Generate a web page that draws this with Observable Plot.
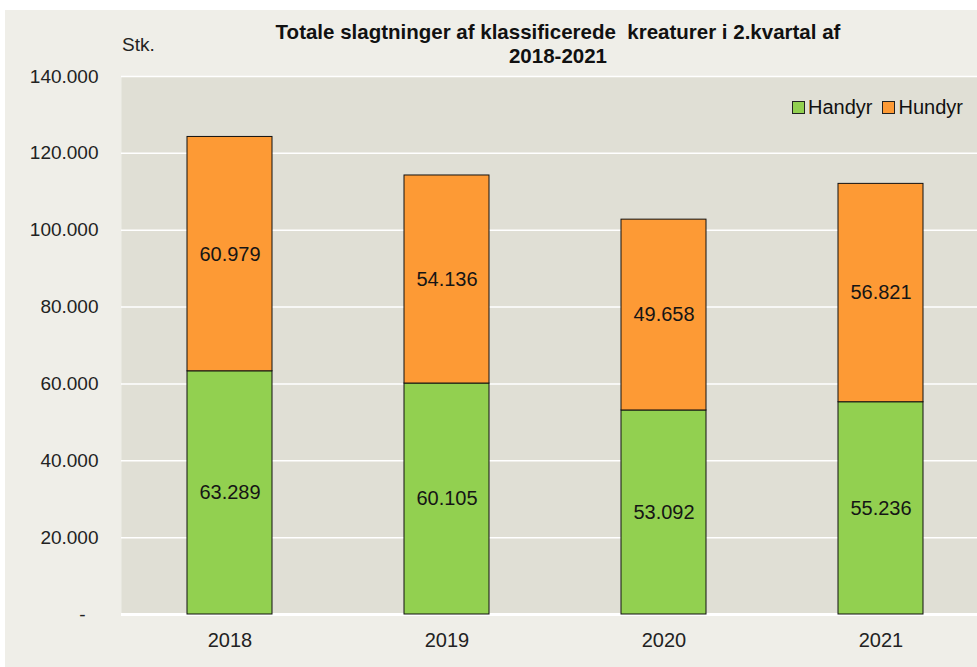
<!DOCTYPE html>
<html>
<head>
<meta charset="utf-8">
<script src="https://cdn.jsdelivr.net/npm/d3@7"></script>
<script src="https://cdn.jsdelivr.net/npm/@observablehq/plot@0.6"></script>
<style>
  html, body { margin: 0; padding: 0; background: #ffffff; overflow: hidden; }
  #wrap { position: relative; width: 977px; height: 667px; overflow: hidden; font-family: "Liberation Sans", Arial, sans-serif; }
  #bg { position: absolute; left: 5px; top: 10px; width: 972px; height: 657px; background: #efeee8; }
  #chart { position: absolute; left: 0; top: 0; }
  #title { position: absolute; left: 208px; top: 20px; width: 700px; text-align: center; font-weight: bold; font-size: 20.5px; line-height: 24px; color: #111; }
  #unit { position: absolute; left: 122px; top: 34px; font-size: 19px; color: #222; }
  #legend { position: absolute; left: 792px; top: 96px; font-size: 20px; color: #111; display: flex; align-items: center; }
  #legend .sw { display: inline-block; width: 11px; height: 11px; border: 1px solid #222; margin-right: 3px; }
  #legend .item { display: flex; align-items: center; margin-right: 10px; }
</style>
</head>
<body>
<div id="wrap">
  <div id="bg"></div>
  <div id="chart"></div>
  <div id="title">Totale slagtninger af klassificerede&nbsp; kreaturer i 2.kvartal af<br>2018-2021</div>
  <div id="unit">Stk.</div>
  <div id="legend"></div>
</div>
<script>
const years = ["2018", "2019", "2020", "2021"];
const seriesNames = ["Handyr", "Hundyr"];
const handyr = [63289, 60105, 53092, 55236];
const hundyr = [60979, 54136, 49658, 56821];
const yTicks = [20000, 40000, 60000, 80000, 100000, 120000, 140000];
const yTickLabels = ["20.000", "40.000", "60.000", "80.000", "100.000", "120.000", "140.000"];
const zeroTick = [0];
const zeroLabel = "-";
const colors = ["#92d050", "#fd9a35"];

const fmt = d3.formatLocale({decimal: ",", thousands: ".", grouping: [3], currency: ["", ""]}).format(",");

const data = [];
years.forEach((y, i) => {
  data.push({year: y, type: seriesNames[0], value: handyr[i]});
  data.push({year: y, type: seriesNames[1], value: hundyr[i]});
});

const chart = Plot.plot({
  width: 977,
  height: 667,
  marginTop: 76,
  marginBottom: 53,
  marginLeft: 121,
  marginRight: 0,
  style: {background: "transparent", fontFamily: "Liberation Sans, Arial, sans-serif", overflow: "hidden"},
  x: {domain: years, range: [121, 989], paddingInner: 0.61, paddingOuter: 0.305, label: null},
  y: {domain: [0, 140000], label: null},
  color: {domain: seriesNames, range: colors},
  marks: [
    Plot.frame({fill: "#e0dfd5", stroke: null}),
    Plot.gridY(yTicks, {stroke: "#ffffff", strokeOpacity: 1, strokeWidth: 1.5}),
    Plot.ruleY(zeroTick, {stroke: "#ffffff", strokeWidth: 3}),
    Plot.barY(data, Plot.stackY({x: "year", y: "value", fill: "type", stroke: "#111", strokeWidth: 1})),
    Plot.text(data, Plot.stackY({x: "year", y: "value", z: "type", text: d => fmt(d.value), fontSize: 20, fill: "#151515"})),
    Plot.axisY(yTicks, {tickSize: 0, tickPadding: 23, tickFormat: d => yTickLabels[yTicks.indexOf(d)], fontSize: 19, fill: "#222", label: null}),
    Plot.axisY(zeroTick, {tickSize: 0, tickPadding: 36, tickFormat: () => zeroLabel, fontSize: 19, fill: "#222", label: null}),
    Plot.axisX({tickSize: 0, tickPadding: 18, fontSize: 20, fill: "#222", label: null})
  ]
});
document.getElementById("chart").appendChild(chart);

const legend = document.getElementById("legend");
seriesNames.forEach((n, i) => {
  const item = document.createElement("span");
  item.className = "item";
  const sw = document.createElement("span");
  sw.className = "sw";
  sw.style.background = colors[i];
  item.appendChild(sw);
  item.appendChild(document.createTextNode(n));
  legend.appendChild(item);
});
</script>
</body>
</html>
